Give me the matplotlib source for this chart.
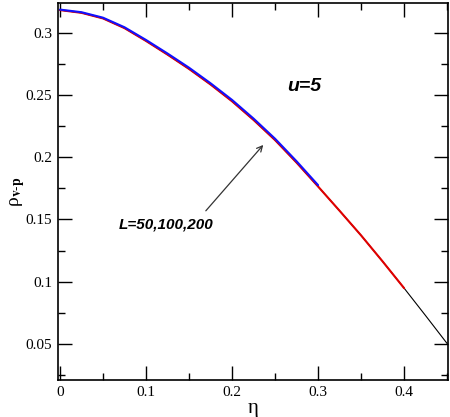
import matplotlib
matplotlib.use("Agg")
import matplotlib.pyplot as plt
from matplotlib.ticker import MultipleLocator

# Data
eta_L50 = [0.0, 0.025, 0.05, 0.075, 0.1, 0.125, 0.15, 0.175, 0.2, 0.225, 0.25,
           0.275, 0.3, 0.325, 0.35, 0.375, 0.4, 0.425, 0.45]
rho_L50 = [0.3183, 0.3161, 0.3116, 0.3038, 0.2935, 0.2825, 0.2710, 0.2585, 0.2450,
           0.2300, 0.2138, 0.1957, 0.1765, 0.1570, 0.1372, 0.1163, 0.0948, 0.0727, 0.0503]

eta_L100 = [0.0, 0.025, 0.05, 0.075, 0.1, 0.125, 0.15, 0.175, 0.2, 0.225, 0.25,
            0.275, 0.3, 0.325, 0.35, 0.375, 0.4]
rho_L100 = [0.3183, 0.3161, 0.3116, 0.3038, 0.2935, 0.2825, 0.2710, 0.2585, 0.2450,
            0.2300, 0.2138, 0.1957, 0.1765, 0.1570, 0.1372, 0.1163, 0.0948]

eta_L200 = [0.0, 0.025, 0.05, 0.075, 0.1, 0.125, 0.15, 0.175, 0.2, 0.225, 0.25,
            0.275, 0.3]
rho_L200 = [0.3187, 0.3166, 0.3122, 0.3045, 0.2943, 0.2834, 0.2720, 0.2595, 0.2461,
            0.2311, 0.2149, 0.1968, 0.1776]

xticks = [0, 0.1, 0.2, 0.3, 0.4]
xticklabels = ["0", "0.1", "0.2", "0.3", "0.4"]
yticks = [0.05, 0.1, 0.15, 0.2, 0.25, 0.3]
yticklabels = ["0.05", "0.1", "0.15", "0.2", "0.25", "0.3"]

plt.rcParams['mathtext.fontset'] = 'stix'

fig = plt.figure(figsize=(4.5, 4.17), dpi=100)
ax = fig.add_axes([58/450, 37/417, 390/450, 377/417])

kw = dict(solid_joinstyle='round', solid_capstyle='round')
ax.plot(eta_L50, rho_L50, color='black', lw=0.8, **kw)
ax.plot(eta_L100, rho_L100, color='#e00000', lw=1.5, **kw)
ax.plot(eta_L200, rho_L200, color='#1010ff', lw=1.5, **kw)

ax.set_xlim(-0.0023, 0.451)
ax.set_ylim(0.021, 0.324)

ax.set_xticks(xticks)
ax.set_xticklabels(xticklabels, fontfamily='Liberation Serif', fontsize=11)
ax.set_yticks(yticks)
ax.set_yticklabels(yticklabels, fontfamily='Liberation Serif', fontsize=11)
ax.xaxis.set_minor_locator(MultipleLocator(0.05))
ax.yaxis.set_minor_locator(MultipleLocator(0.025))
ax.tick_params(which='both', direction='in', top=True, right=True, width=1)
ax.tick_params(which='major', length=10, pad=4)
ax.tick_params(which='minor', length=5)
for s in ax.spines.values():
    s.set_linewidth(1.2)

ax.set_xlabel('η', fontfamily='Liberation Serif', fontsize=15, labelpad=0)
ax.set_ylabel('ρ' + r'$_{\mathbf{v}\text{-}\mathbf{p}}$', fontfamily='Liberation Serif',
              fontsize=14)
ax.yaxis.set_label_coords(-0.08, 0.5)

ax.text(0.264, 0.253, 'u=5', fontfamily='Liberation Sans', fontweight='bold',
        fontstyle='italic', fontsize=14)
ax.text(0.068, 0.143, 'L=50,100,200', fontfamily='Liberation Sans', fontweight='bold',
        fontstyle='italic', fontsize=11)
ax.annotate('', xy=(0.2384, 0.2116), xytext=(0.1674, 0.1553),
            arrowprops=dict(arrowstyle='->', color='#333333', lw=0.9))

fig.savefig('out.png', dpi=100)
